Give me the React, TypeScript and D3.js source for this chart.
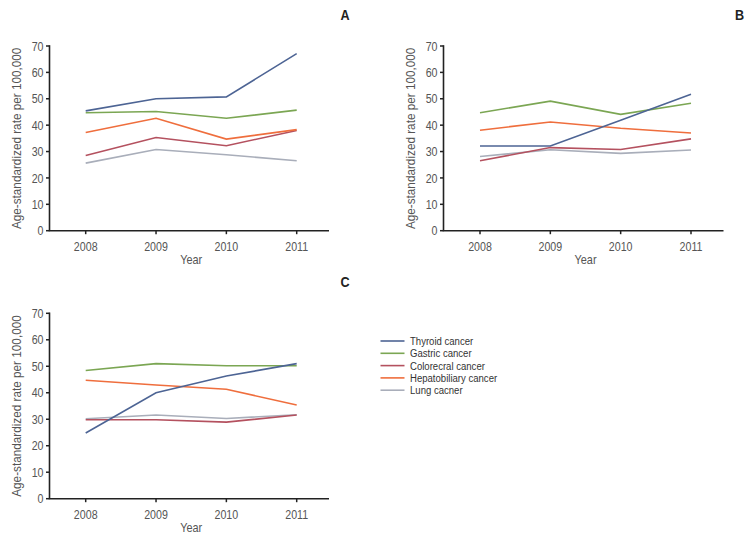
import React from "react";
import * as d3 from "d3";

const years = [2008, 2009, 2010, 2011];
const yTicks = [0, 10, 20, 30, 40, 50, 60, 70];
const seriesNames = ["Thyroid cancer", "Gastric cancer", "Colorecral cancer", "Hepatobiliary cancer", "Lung cacner"];
const seriesColors = ["#4d6494", "#7ba653", "#b4515f", "#ef6e3d", "#a9aeba"];
const panelLabels = ["A", "B", "C"];

// Panel A
const thyroidA = [45.4, 50.0, 50.7, 67.1];
const gastricA = [44.7, 45.2, 42.6, 45.7];
const colorectalA = [28.5, 35.3, 32.2, 38.0];
const hepatoA = [37.2, 42.6, 34.7, 38.3];
const lungA = [25.6, 30.8, 28.8, 26.5];

// Panel B
const thyroidB = [32.1, 32.1, 41.9, 51.7];
const gastricB = [44.7, 49.1, 44.1, 48.3];
const colorectalB = [26.5, 31.5, 30.8, 34.8];
const hepatoB = [38.1, 41.2, 38.8, 37.0];
const lungB = [28.1, 30.7, 29.3, 30.6];

// Panel C
const thyroidC = [24.8, 40.0, 46.3, 51.0];
const gastricC = [48.4, 51.0, 50.2, 50.2];
const colorectalC = [29.8, 29.8, 28.9, 31.6];
const hepatoC = [44.7, 42.9, 41.3, 35.4];
const lungC = [30.2, 31.6, 30.3, 31.7];

const panelData = [
  [thyroidA, gastricA, colorectalA, hepatoA, lungA],
  [thyroidB, gastricB, colorectalB, hepatoB, lungB],
  [thyroidC, gastricC, colorectalC, hepatoC, lungC],
];

const FONT = "'Liberation Sans', Arial, sans-serif";

type TProps = {
  x: number;
  y: number;
  size: number;
  sx: number;
  anchor?: "start" | "middle" | "end";
  rotate?: number;
  fill?: string;
  weight?: string;
  children: React.ReactNode;
};

function T({ x, y, size, sx, anchor = "start", rotate = 0, fill = "#555", weight = "normal", children }: TProps) {
  return (
    <text
      transform={`translate(${x},${y}) rotate(${rotate}) scale(${sx},1)`}
      textAnchor={anchor}
      dy="0.36em"
      fontSize={size}
      fontWeight={weight}
      fill={fill}
      fontFamily={FONT}
    >
      {children}
    </text>
  );
}

type PanelProps = {
  ox: number;
  top: number;
  bottom: number;
  xEnd: number;
  firstTick: number;
  lastTick: number;
  label: string;
  labelX: number;
  labelY: number;
  data: number[][];
};

function Panel({ ox, top, bottom, xEnd, firstTick, lastTick, label, labelX, labelY, data }: PanelProps) {
  const x = d3.scaleLinear().domain([2008, 2011]).range([firstTick, lastTick]);
  const y = d3.scaleLinear().domain([0, 70]).range([bottom, top]);
  const line = d3
    .line<number>()
    .x((_, i) => x(years[i]))
    .y((d) => y(d));
  const order = [4, 2, 3, 1, 0];
  return (
    <g>
      {order.map((si) => (
        <path key={si} d={line(data[si]) || ""} fill="none" stroke={seriesColors[si]} strokeWidth={1.6} />
      ))}
      <line x1={ox} x2={ox} y1={top - 0.8} y2={bottom} stroke="#222" strokeWidth={1.6} />
      {yTicks.map((t) => (
        <g key={t}>
          <line x1={ox - 3.5} x2={ox} y1={y(t)} y2={y(t)} stroke="#222" strokeWidth={1.5} />
          <T x={ox - 6} y={y(t)} size={13} sx={0.82} anchor="end">
            {t}
          </T>
        </g>
      ))}
      <line x1={ox - 0.8} x2={xEnd} y1={bottom} y2={bottom} stroke="#222" strokeWidth={1.6} />
      {years.map((yr) => (
        <g key={yr}>
          <line x1={x(yr)} x2={x(yr)} y1={bottom} y2={bottom + 3.5} stroke="#222" strokeWidth={1.5} />
          <T x={x(yr)} y={bottom + 15.5} size={13} sx={0.82} anchor="middle">
            {yr}
          </T>
        </g>
      ))}
      <T x={(firstTick + lastTick) / 2} y={bottom + 28.5} size={13} sx={0.84} anchor="middle">
        Year
      </T>
      <T x={ox - 33} y={(top + bottom) / 2} size={12.5} sx={0.94} anchor="middle" rotate={-90}>
        Age-standardized rate per 100,000
      </T>
      <T x={labelX} y={labelY} size={14} sx={0.9} anchor="middle" fill="#222" weight="bold">
        {label}
      </T>
    </g>
  );
}

export default function App() {
  const panels = [
    { ox: 49.5, top: 46, bottom: 230.7, xEnd: 329, firstTick: 85.7, lastTick: 296.7, labelX: 345, labelY: 15 },
    { ox: 443.5, top: 46, bottom: 230.7, xEnd: 723.5, firstTick: 480, lastTick: 691, labelX: 739.5, labelY: 15 },
    { ox: 49.5, top: 313.3, bottom: 498.7, xEnd: 329, firstTick: 85.7, lastTick: 296.7, labelX: 345, labelY: 281.5 },
  ];
  return (
    <svg width={752} height={539} style={{ position: "absolute", left: 0, top: 0, background: "#fff" }}>
      <rect width={752} height={539} fill="#fff" />
      {panels.map((p, i) => (
        <Panel key={i} {...p} label={panelLabels[i]} data={panelData[i]} />
      ))}
      <g>
        {seriesNames.map((name, i) => (
          <g key={name}>
            <line x1={380.5} x2={404.5} y1={341 + i * 12.3} y2={341 + i * 12.3} stroke={seriesColors[i]} strokeWidth={1.6} />
            <T x={410} y={341 + i * 12.3} size={11} sx={0.87} fill="#333">
              {name}
            </T>
          </g>
        ))}
      </g>
    </svg>
  );
}
